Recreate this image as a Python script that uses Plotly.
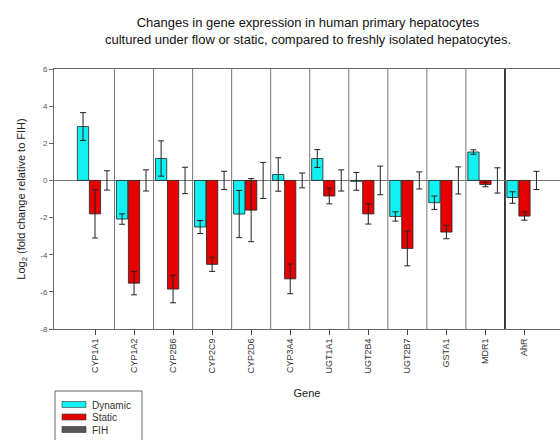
import plotly.graph_objects as go

# Genes on the x axis
genes = ["CYP1A1", "CYP1A2", "CYP2B6", "CYP2C9", "CYP2D6", "CYP3A4",
         "UGT1A1", "UGT2B4", "UGT2B7", "GSTA1", "MDR1", "AhR"]

# Log2 fold change relative to freshly isolated hepatocytes (FIH), with error
dynamic = [2.90, -2.08, 1.18, -2.51, -1.81, 0.32, 1.18, -0.05, -1.94, -1.20, 1.53, -0.92]
dynamic_err = [0.75, 0.28, 0.95, 0.35, 1.27, 0.90, 0.48, 0.48, 0.25, 0.36, 0.12, 0.31]
static = [-1.80, -5.53, -5.85, -4.52, -1.60, -5.30, -0.84, -1.80, -3.66, -2.78, -0.22, -1.92]
static_err = [1.30, 0.63, 0.74, 0.38, 1.70, 0.80, 0.42, 0.55, 0.94, 0.36, 0.12, 0.22]
fih = [0.0] * 12
fih_err = [0.52, 0.57, 0.71, 0.49, 0.97, 0.40, 0.57, 0.77, 0.46, 0.73, 0.68, 0.49]

y_ticks = [6, 4, 2, 0, -2, -4, -6, -8]

title_text = ("Changes in gene expression in human primary hepatocytes<br>"
              "cultured under flow or static, compared to freshly isolated hepatocytes.")

CYAN = "#10F0F0"
RED = "#E60000"
GREY = "#555555"
FONT = "Liberation Sans, Arial, sans-serif"

fig = go.Figure()


def add_series(name, values, errors, color, line_w):
    fig.add_trace(go.Bar(
        x=genes, y=values, name=name,
        marker=dict(color=color, line=dict(color="#222222", width=line_w)),
        error_y=dict(type="data", array=errors, visible=True,
                     color="#222222", thickness=1, width=3),
        showlegend=False,
    ))


add_series("Dynamic", dynamic, dynamic_err, CYAN, 0.8)
add_series("Static", static, static_err, RED, 0.8)
add_series("FIH", fih, fih_err, GREY, 0)

# Vertical separators between gene groups (the last one drawn heavier)
shapes = []
n = len(genes)
for i in range(n - 1):
    heavy = i == n - 2
    shapes.append(dict(
        type="line", xref="x", yref="y", x0=i + 0.5, x1=i + 0.5, y0=-8, y1=6,
        line=dict(color="#111111" if heavy else "#777777", width=1.6 if heavy else 1),
        layer="below",
    ))

W, H = 560, 440
L, R, T, B = 54, 0, 69, 111
pw, ph = W - L - R, H - T - B


def px_x(px):
    return (px - L) / pw


def px_y(py):
    return (H - B - py) / ph


annotations = []

# Legend box below the plot area
shapes.append(dict(type="rect", xref="paper", yref="paper",
                   x0=px_x(55), x1=px_x(142), y0=px_y(391), y1=px_y(448),
                   line=dict(color="#666666", width=1), fillcolor="white"))

legend_items = [("Dynamic", CYAN), ("Static", RED), ("FIH", GREY)]
for k, (label, color) in enumerate(legend_items):
    cy = 404.5 + 12.5 * k
    shapes.append(dict(type="rect", xref="paper", yref="paper",
                       x0=px_x(62), x1=px_x(86), y0=px_y(cy + 3), y1=px_y(cy - 3),
                       line=dict(color="#333333", width=0.6), fillcolor=color))
    annotations.append(dict(xref="paper", yref="paper", x=px_x(90), y=px_y(cy + 0.5),
                            text=label, showarrow=False, xanchor="left",
                            yanchor="middle", font=dict(size=10, color="#333333", family=FONT)))

fig.update_layout(
    width=W, height=H,
    margin=dict(l=L, r=R, t=T, b=B),
    paper_bgcolor="white", plot_bgcolor="white",
    barmode="group", bargap=0.08, bargroupgap=0.06,
    font=dict(family=FONT, color="#333333"),
    title=dict(
        text=title_text,
        x=308 / W, xanchor="center",
        y=1 - 27 / H, yanchor="top",
        font=dict(size=13, color="#111111", family=FONT),
    ),
    xaxis=dict(
        range=[-1.05, 11.91], showgrid=False, zeroline=False,
        showline=True, mirror=True, linecolor="#666666", linewidth=1,
        ticks="outside", ticklen=5, tickcolor="#444444",
        tickangle=-90, tickfont=dict(size=9, color="#333333"),
        title=dict(text="Gene", font=dict(size=11, color="#222222"), standoff=16),
    ),
    yaxis=dict(
        range=[-8, 6], tickvals=y_ticks, ticktext=[str(v) for v in y_ticks],
        showgrid=False, zeroline=True, zerolinecolor="#777777", zerolinewidth=1,
        showline=True, linecolor="#666666", linewidth=1,
        ticks="outside", ticklen=4, tickcolor="#666666",
        tickfont=dict(size=8, color="#555555"),
        title=dict(text="Log<sub>2</sub> (fold change relative to FIH)",
                   font=dict(size=11, color="#222222"), standoff=12),
    ),
    shapes=shapes,
    annotations=annotations,
)

fig.write_html("out.html")
